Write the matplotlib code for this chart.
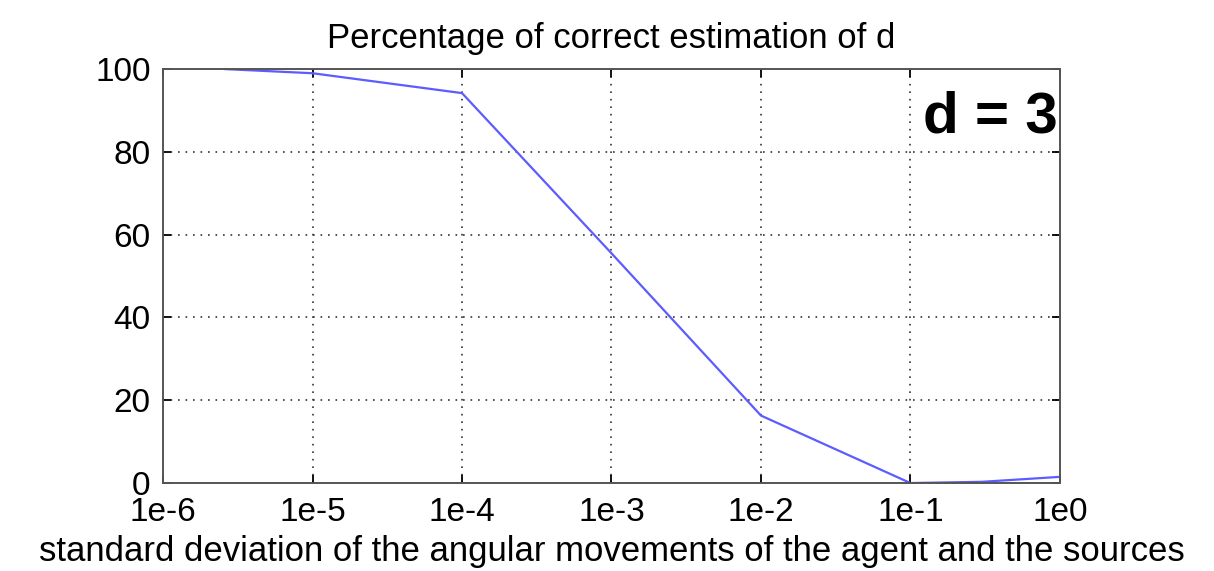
import matplotlib.pyplot as plt

# percentage of correct estimates vs. std of angular movements
sigma = [2.6e-6, 1e-5, 1e-4, 1e-3, 1e-2, 1e-1, 3e-1, 1e0]
pct_correct = [100, 99, 94.2, 55.5, 16.3, 0, 0.3, 1.5]
tick_pos = [1e-6, 1e-5, 1e-4, 1e-3, 1e-2, 1e-1, 1e0]
tick_lbl = ['1e-6', '1e-5', '1e-4', '1e-3', '1e-2', '1e-1', '1e0']
y_ticks = [0, 20, 40, 60, 80, 100]

plt.rcParams['font.family'] = ['Liberation Sans', 'DejaVu Sans']

fig = plt.figure(figsize=(12.14, 5.71), dpi=100)
ax = fig.add_axes([0.1343, 0.154, 0.7388, 0.725])
ax.plot(sigma, pct_correct, color='#5c5cff', lw=1.6)
ax.set_xscale('log')
ax.set_xlim(1e-6, 1e0)
ax.set_ylim(0, 100)
ax.set_xticks(tick_pos)
ax.set_xticklabels(tick_lbl)
ax.minorticks_off()
ax.set_yticks(y_ticks)
ax.grid(True, color='#333333', linestyle=(0, (1, 3.5)), lw=1.2)
ax.tick_params(direction='in', top=True, right=True, labelsize=24, length=6, width=1.3)
ax.tick_params(axis='y', pad=9)
ax.tick_params(axis='x', pad=10)
for s in ax.spines.values():
    s.set_color('#555555')
    s.set_linewidth(1.4)
ax.set_title('Percentage of correct estimation of d', fontsize=25, pad=15)
ax.set_xlabel('standard deviation of the angular movements of the agent and the sources',
              fontsize=25, labelpad=5)
ax.text(0.997, 0.948, 'd = 3', transform=ax.transAxes, ha='right', va='top',
        fontsize=42, fontweight='bold')
fig.savefig('out.png')
